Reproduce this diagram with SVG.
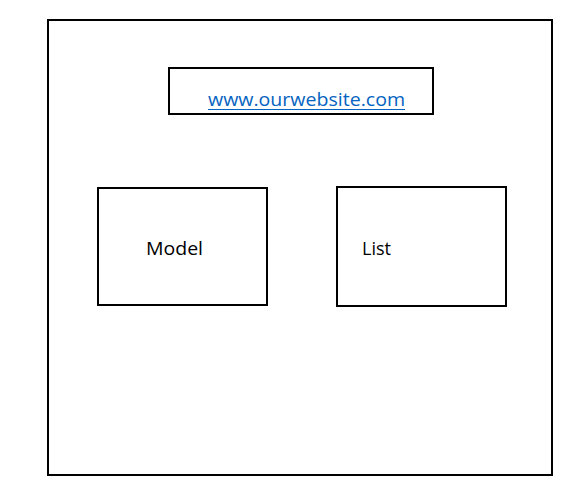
<svg xmlns="http://www.w3.org/2000/svg" width="582" height="489" viewBox="0 0 582 489">
<style>
.box{fill:#fff;stroke:#000;stroke-width:2}
.t{font-family:"Open Sans","Liberation Sans",sans-serif;font-size:19px;fill:#000}
.link{fill:#0563C1}
</style>
<rect width="582" height="489" fill="#fff"/>
<g id="frame"><rect class="box" x="48" y="20" width="504" height="455"/></g>
<g id="url">
<rect class="box" x="169" y="68" width="264" height="46"/>
<text class="t link" x="208" y="106" textLength="197" lengthAdjust="spacingAndGlyphs">www.ourwebsite.com</text>
<line x1="208" y1="109.5" x2="405" y2="109.5" stroke="#0563C1" stroke-width="1"/>
</g>
<g id="model">
<rect class="box" x="98" y="188" width="169" height="117"/>
<text class="t" x="146" y="255" textLength="57" lengthAdjust="spacingAndGlyphs">Model</text>
</g>
<g id="list">
<rect class="box" x="337" y="187" width="169" height="119"/>
<text class="t" x="362" y="255" textLength="29" lengthAdjust="spacingAndGlyphs">List</text>
</g>
<g id="connectors"/>
</svg>
